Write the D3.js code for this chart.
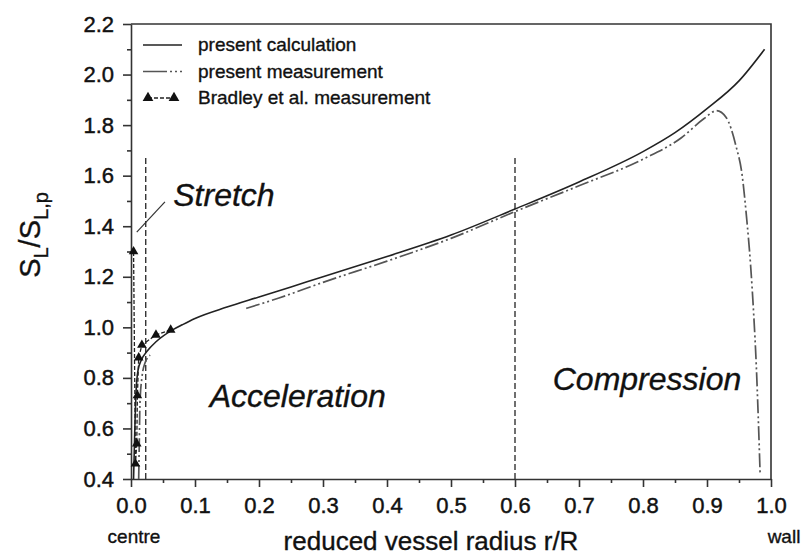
<!DOCTYPE html>
<html>
<head>
<meta charset="utf-8">
<script src="https://cdn.jsdelivr.net/npm/d3@7"></script>
<style>
  body { margin: 0; background: #fff; }
  svg { font-family: "Liberation Sans", Arial, sans-serif; }
  .axis path, .axis line { stroke: #333; stroke-width: 1.6; }
  .axis text { font-size: 22px; fill: #111; stroke: #111; stroke-width: 0.45; }
  .txt { fill: #111; stroke: #111; stroke-width: 0.35; }
</style>
</head>
<body>
<div id="d3-container"></div>
<script>
// CONST and GLOBALS
const width = 803,
  height = 556,
  margin = { top: 24, bottom: 77, left: 131, right: 32 };

// ticks
const xTicks = [0, 0.1, 0.2, 0.3, 0.4, 0.5, 0.6, 0.7, 0.8, 0.9, 1.0];
const xMinor = [0.05, 0.15, 0.25, 0.35, 0.45, 0.55, 0.65, 0.75, 0.85, 0.95];
const yTicks = [0.4, 0.6, 0.8, 1.0, 1.2, 1.4, 1.6, 1.8, 2.0, 2.2];
const yMinor = [0.5, 0.7, 0.9, 1.1, 1.3, 1.5, 1.7, 1.9, 2.1];

// present calculation  [r/R, SL/SLp]
const calculation = [
  [0.004, 0.40], [0.006, 0.60], [0.008, 0.75], [0.011, 0.83], [0.016, 0.87],
  [0.025, 0.905], [0.04, 0.945], [0.065, 0.99], [0.08, 1.01], [0.1, 1.035],
  [0.15, 1.08], [0.2, 1.12], [0.25, 1.16], [0.3, 1.2], [0.4, 1.28],
  [0.5, 1.365], [0.6, 1.468], [0.7, 1.575], [0.8, 1.695], [0.85, 1.77],
  [0.9, 1.865], [0.95, 1.975], [0.99, 2.1]
];

// present measurement (two pieces)
const measCentre = [
  [0.012, 0.40], [0.013, 0.55], [0.014, 0.70], [0.017, 0.80], [0.022, 0.86], [0.03, 0.89]
];
const measMain = [
  [0.18, 1.075], [0.23, 1.115], [0.3, 1.178], [0.4, 1.262], [0.5, 1.352],
  [0.6, 1.458], [0.7, 1.56], [0.8, 1.665], [0.86, 1.75], [0.895, 1.825],
  [0.915, 1.857], [0.93, 1.83], [0.945, 1.72], [0.955, 1.60], [0.962, 1.43],
  [0.968, 1.25], [0.973, 1.05], [0.977, 0.85], [0.98, 0.65], [0.983, 0.42]
];

// Bradley et al. measurement
const bradley = [
  [0.062, 0.99], [0.039, 0.97], [0.017, 0.93], [0.012, 0.88], [0.010, 0.73],
  [0.009, 0.54], [0.007, 0.46], [0.004, 1.30]
];

// region boundaries
const boundaries = [0.023, 0.6];
const boundaryTop = 1.68;

const legendItems = ['present calculation', 'present measurement', 'Bradley et al. measurement'];

let svg, xScale, yScale;

function init() {
  xScale = d3.scaleLinear().domain([0, 1]).range([margin.left, width - margin.right]);
  yScale = d3.scaleLinear().domain([0.4, 2.2]).range([height - margin.bottom, margin.top]);

  svg = d3.select('#d3-container')
    .append('svg')
    .attr('width', width)
    .attr('height', height);

  // frame top + right
  svg.append('path')
    .attr('d', `M${xScale(0)},${yScale(2.2)}H${xScale(1)}V${yScale(0.4)}`)
    .attr('fill', 'none')
    .attr('stroke', '#333')
    .attr('stroke-width', 1.6);

  // minor ticks
  svg.append('g')
    .attr('class', 'axis')
    .attr('transform', `translate(0,${yScale(0.4)})`)
    .call(d3.axisBottom(xScale).tickValues(xMinor).tickSize(4).tickFormat(''))
    .call(g => g.select('.domain').remove());
  svg.append('g')
    .attr('class', 'axis')
    .attr('transform', `translate(${xScale(0)},0)`)
    .call(d3.axisLeft(yScale).tickValues(yMinor).tickSize(4).tickFormat(''))
    .call(g => g.select('.domain').remove());

  // major axes
  svg.append('g')
    .attr('class', 'axis x-axis')
    .attr('transform', `translate(0,${yScale(0.4)})`)
    .call(d3.axisBottom(xScale).tickValues(xTicks).tickSize(8).tickSizeOuter(0).tickPadding(10).tickFormat(d3.format('.1f')));
  svg.append('g')
    .attr('class', 'axis y-axis')
    .attr('transform', `translate(${xScale(0)},0)`)
    .call(d3.axisLeft(yScale).tickValues(yTicks).tickSize(8).tickSizeOuter(0).tickPadding(9).tickFormat(d3.format('.1f')));

  // axis titles
  svg.append('text')
    .attr('class', 'txt')
    .attr('x', xScale(0) + 3)
    .attr('y', 543)
    .attr('text-anchor', 'middle')
    .attr('font-size', 19)
    .text('centre');
  svg.append('text')
    .attr('class', 'txt')
    .attr('x', xScale(1) + 13)
    .attr('y', 543)
    .attr('text-anchor', 'middle')
    .attr('font-size', 19)
    .text('wall');
  svg.append('text')
    .attr('class', 'txt')
    .attr('x', 431)
    .attr('y', 550)
    .attr('text-anchor', 'middle')
    .attr('font-size', 26)
    .text('reduced vessel radius r/R');

  const yl = svg.append('text')
    .attr('class', 'txt')
    .attr('transform', `translate(40,${235}) rotate(-90)`)
    .attr('text-anchor', 'middle')
    .attr('font-size', 29);
  yl.append('tspan').text('S');
  yl.append('tspan').attr('font-size', 20).attr('dy', 8).text('L');
  yl.append('tspan').attr('dy', -8).text('/S');
  yl.append('tspan').attr('font-size', 20).attr('dy', 8).text('L,p');

  draw();
}

function draw() {
  const line = d3.line()
    .x(d => xScale(d[0]))
    .y(d => yScale(d[1]))
    .curve(d3.curveMonotoneX);

  // boundaries
  svg.selectAll('.bound')
    .data(boundaries)
    .join('line')
    .attr('class', 'bound')
    .attr('x1', d => xScale(d)).attr('x2', d => xScale(d))
    .attr('y1', yScale(0.4)).attr('y2', yScale(boundaryTop))
    .attr('stroke', '#333')
    .attr('stroke-width', 1.4)
    .attr('stroke-dasharray', '6,3');

  // measurement
  [measCentre, measMain].forEach(seg => {
    svg.append('path')
      .datum(seg)
      .attr('d', line)
      .attr('fill', 'none')
      .attr('stroke', '#555')
      .attr('stroke-width', 1.7)
      .attr('stroke-dasharray', '14,3,2,3,2,3');
  });

  // calculation
  svg.append('path')
    .datum(calculation)
    .attr('d', line)
    .attr('fill', 'none')
    .attr('stroke', '#222')
    .attr('stroke-width', 1.6);

  // Bradley
  svg.append('path')
    .datum(bradley)
    .attr('d', d3.line().x(d => xScale(d[0])).y(d => yScale(d[1])))
    .attr('fill', 'none')
    .attr('stroke', '#222')
    .attr('stroke-width', 1.3)
    .attr('stroke-dasharray', '4,2');
  svg.selectAll('.tri')
    .data(bradley)
    .join('path')
    .attr('class', 'tri')
    .attr('d', d3.symbol(d3.symbolTriangle, 40))
    .attr('transform', d => `translate(${xScale(d[0])},${yScale(d[1])})`)
    .attr('fill', '#111');

  // annotations
  svg.append('line')
    .attr('x1', xScale(0.053)).attr('y1', yScale(1.496))
    .attr('x2', xScale(0.009)).attr('y2', yScale(1.377))
    .attr('stroke', '#333').attr('stroke-width', 1.2);
  const notes = [
    { t: 'Stretch', x: 0.066, y: 1.48 },
    { t: 'Acceleration', x: 0.123, y: 0.685 },
    { t: 'Compression', x: 0.659, y: 0.752 }
  ];
  svg.selectAll('.note')
    .data(notes)
    .join('text')
    .attr('class', 'note txt')
    .attr('x', d => xScale(d.x))
    .attr('y', d => yScale(d.y))
    .attr('font-size', 32)
    .attr('font-style', 'italic')
    .text(d => d.t);

  // legend
  const lg = svg.append('g').attr('transform', 'translate(143,45)');
  const rowH = 26.5;
  lg.append('line').attr('x1', 0).attr('x2', 39).attr('y1', 0).attr('y2', 0)
    .attr('stroke', '#222').attr('stroke-width', 1.6);
  lg.append('line').attr('x1', 0).attr('x2', 39).attr('y1', rowH).attr('y2', rowH)
    .attr('stroke', '#555').attr('stroke-width', 1.7).attr('stroke-dasharray', '24,3,2,3,2,3');
  lg.append('line').attr('x1', 5).attr('x2', 31).attr('y1', 2 * rowH).attr('y2', 2 * rowH)
    .attr('stroke', '#222').attr('stroke-width', 1.3).attr('stroke-dasharray', '4,2');
  [5, 31].forEach(px => {
    lg.append('path')
      .attr('d', d3.symbol(d3.symbolTriangle, 50))
      .attr('transform', `translate(${px},${2 * rowH})`)
      .attr('fill', '#111');
  });
  lg.selectAll('.lgtext')
    .data(legendItems)
    .join('text')
    .attr('class', 'lgtext txt')
    .attr('x', 55)
    .attr('y', (d, i) => i * rowH + 6)
    .attr('font-size', 19)
    .text(d => d);
}

init();
</script>
</body>
</html>
